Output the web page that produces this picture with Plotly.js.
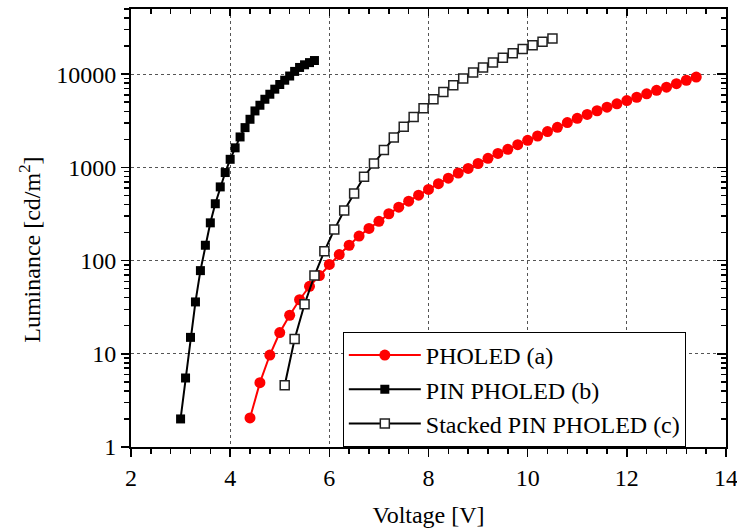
<!DOCTYPE html>
<html>
<head>
<meta charset="utf-8">
<script src="https://cdn.plot.ly/plotly-3.0.1.min.js"></script>
<style>html,body{margin:0;padding:0;background:#fff;}#chart{width:737px;height:531px;}</style>
</head>
<body>
<div id="chart"></div>
<script>
// ---- data ----
const seriesNames = ["PHOLED (a)", "PIN PHOLED (b)", "Stacked PIN PHOLED (c)"];

const voltageA = [4.4,4.6,4.8,5.0,5.2,5.4,5.6,5.8,6.0,6.2,6.4,6.6,6.8,7.0,7.2,7.4,7.6,7.8,8.0,8.2,8.4,8.6,8.8,9.0,9.2,9.4,9.6,9.8,10.0,10.2,10.4,10.6,10.8,11.0,11.2,11.4,11.6,11.8,12.0,12.2,12.4,12.6,12.8,13.0,13.2,13.4];
const luminanceA = [2.05,4.9,9.7,16.9,25.9,38,53,69,91,116,146,183,221,264,318,374,434,503,580,668,765,870,975,1100,1250,1410,1560,1750,1950,2170,2420,2690,3020,3360,3700,4050,4420,4800,5200,5650,6150,6700,7250,7900,8600,9300];

const voltageB = [3.0,3.1,3.2,3.3,3.4,3.5,3.6,3.7,3.8,3.9,4.0,4.1,4.2,4.3,4.4,4.5,4.6,4.7,4.8,4.9,5.0,5.1,5.2,5.3,5.4,5.5,5.6,5.7];
const luminanceB = [2.0,5.5,15,36,78,146,254,407,617,880,1220,1620,2120,2670,3280,4030,4640,5380,6090,6900,7740,8610,9550,10700,11800,12600,13300,14000];

const voltageC = [5.1,5.3,5.5,5.7,5.9,6.1,6.3,6.5,6.7,6.9,7.1,7.3,7.5,7.7,7.9,8.1,8.3,8.5,8.7,8.9,9.1,9.3,9.5,9.7,9.9,10.1,10.3,10.5];
const luminanceC = [4.6,14.4,34,69,126,215,345,525,794,1100,1535,2090,2720,3470,4300,5380,6450,7620,9000,10400,11800,13300,14950,16800,18600,20400,22300,24200];

const xTicks = [2,4,6,8,10,12,14];
const yTicks = [1,10,100,1000,10000];
const yTickText = ["1","10","100","1000","10000"];
const xTitle = "Voltage [V]";
const yTitle = "Luminance [cd/m<sup>2</sup>]";

// minor tick positions for the log axis (2..9 of each decade)
const yMinor = [];
for (const d of [1,10,100,1000,10000]) for (let k = 2; k <= 9; k++) yMinor.push(k*d);

const FONT = "Liberation Serif";

const traces = [
  {x: voltageA, y: luminanceA, name: seriesNames[0], type: "scatter", mode: "lines+markers",
   line: {color: "#ff0000", width: 2},
   marker: {symbol: "circle", size: 11, color: "#ff0000"}},
  {x: voltageB, y: luminanceB, name: seriesNames[1], type: "scatter", mode: "lines+markers",
   line: {color: "#000000", width: 2},
   marker: {symbol: "square", size: 9, color: "#000000"}},
  {x: voltageC, y: luminanceC, name: seriesNames[2], type: "scatter", mode: "lines+markers",
   line: {color: "#000000", width: 2},
   marker: {symbol: "square", size: 9, color: "#ffffff", line: {color: "#222222", width: 1.5}}},
  // empty helper trace so the mirrored top/right frame axes are drawn
  {x: [null], y: [null], xaxis: "x2", yaxis: "y2", type: "scatter", mode: "markers",
   showlegend: false, hoverinfo: "skip"}
];

const xr = [2, 14];
const yr = [0, Math.log10(50000)];

const layout = {
  width: 737, height: 531,
  margin: {l: 131, r: 11, t: 9, b: 84},
  paper_bgcolor: "#ffffff", plot_bgcolor: "#ffffff",
  font: {family: FONT, size: 24, color: "#000"},
  showlegend: true,
  legend: {
    x: 0.356, y: 0.2626, xanchor: "left", yanchor: "top",
    bgcolor: "#ffffff", bordercolor: "#000000", borderwidth: 1,
    font: {family: FONT, size: 24, color: "#000"},
    itemwidth: 72, tracegroupgap: 0
  },
  xaxis: {
    range: xr, tickmode: "array", tickvals: xTicks, ticklabeloverflow: "allow",
    ticks: "outside", ticklen: 8, tickwidth: 1.5, tickcolor: "#000",
    minor: {dtick: 0.4, tick0: 2, ticks: "outside", ticklen: 5, tickwidth: 1.5, tickcolor: "#000", showgrid: false},
    showline: true, linecolor: "#000", linewidth: 2, mirror: true,
    showgrid: true, gridcolor: "#555", gridwidth: 1, griddash: "dot",
    zeroline: false,
    tickfont: {family: FONT, size: 24, color: "#000"},
    title: {text: xTitle, font: {family: FONT, size: 24, color: "#000"}, standoff: 16}
  },
  yaxis: {
    type: "log", range: yr, tickmode: "array", tickvals: yTicks, ticktext: yTickText,
    ticks: "outside", ticklen: 8, tickwidth: 1.5, tickcolor: "#000",
    minor: {tickmode: "array", tickvals: yMinor, ticks: "outside", ticklen: 5, tickwidth: 1.5, tickcolor: "#000", showgrid: false},
    showline: true, linecolor: "#000", linewidth: 2, mirror: true,
    showgrid: true, gridcolor: "#555", gridwidth: 1, griddash: "dot",
    zeroline: false,
    tickfont: {family: FONT, size: 24, color: "#000"}
  },
  xaxis2: {
    overlaying: "x", anchor: "y2", side: "top", range: xr,
    tickmode: "array", tickvals: xTicks, showticklabels: false,
    ticks: "inside", ticklen: 7, tickwidth: 1.5, tickcolor: "#000",
    minor: {dtick: 0.4, tick0: 2, ticks: "inside", ticklen: 5, tickwidth: 1.5, tickcolor: "#000", showgrid: false},
    showline: true, linecolor: "#000", linewidth: 2, showgrid: false, zeroline: false
  },
  yaxis2: {
    overlaying: "y", anchor: "x2", side: "right", type: "log", range: yr,
    tickmode: "array", tickvals: yTicks, showticklabels: false,
    ticks: "inside", ticklen: 9, tickwidth: 1.5, tickcolor: "#000",
    minor: {tickmode: "array", tickvals: yMinor, ticks: "inside", ticklen: 5, tickwidth: 1.5, tickcolor: "#000", showgrid: false},
    showline: true, linecolor: "#000", linewidth: 2, showgrid: false, zeroline: false
  },
  annotations: [{
    text: yTitle, textangle: -90, xref: "paper", yref: "paper",
    x: -0.17, y: 0.45, xanchor: "center", yanchor: "middle", showarrow: false,
    font: {family: FONT, size: 24, color: "#000"}
  }]
};

Plotly.newPlot("chart", traces, layout, {staticPlot: true, displayModeBar: false});
</script>
</body>
</html>
